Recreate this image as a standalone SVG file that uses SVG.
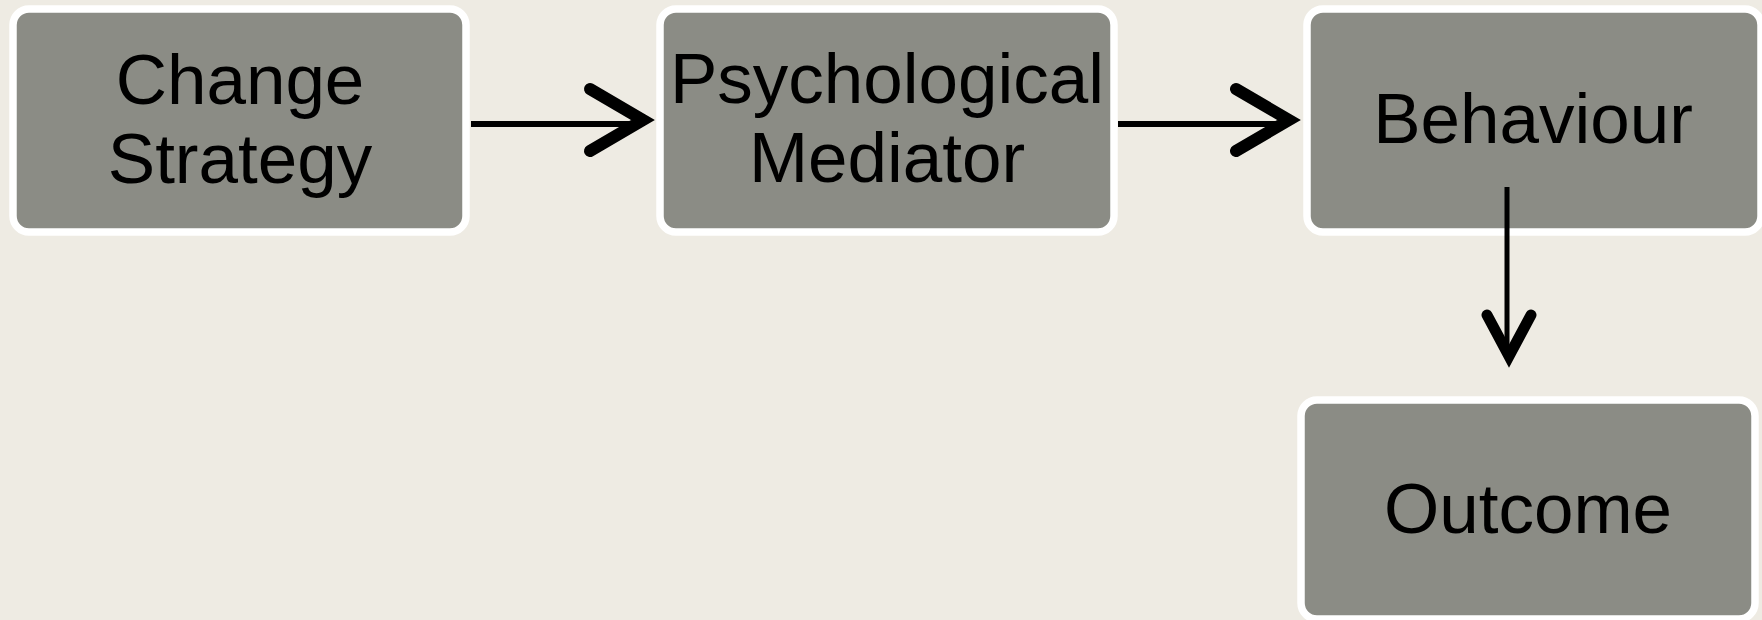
<svg xmlns="http://www.w3.org/2000/svg" width="1762" height="620" viewBox="0 0 1762 620">
<style>
.box{fill:#8B8C85;stroke:#FFFFFF;stroke-width:7.5}
.lbl{font-family:"Liberation Sans",Arial,sans-serif;font-size:71px;fill:#000000;text-anchor:middle}
.ln{stroke:#000000;stroke-width:6;fill:none}
.hd{stroke:#000000;stroke-width:12;fill:none;stroke-linecap:round;stroke-linejoin:miter;stroke-miterlimit:6}
</style>
<rect x="0" y="0" width="1762" height="620" fill="#EEEBE3"/>
<g id="node-change-strategy">
<rect class="box" x="13" y="9" width="453" height="223" rx="16"/>
<text class="lbl" x="240" y="104">Change</text>
<text class="lbl" x="240" y="183">Strategy</text>
</g>
<g id="node-psychological-mediator">
<rect class="box" x="660" y="9" width="454" height="223" rx="16"/>
<text class="lbl" x="887" y="103">Psychological</text>
<text class="lbl" x="887" y="182">Mediator</text>
</g>
<g id="node-behaviour">
<rect class="box" x="1307" y="9" width="454" height="223" rx="16"/>
<text class="lbl" x="1533" y="143">Behaviour</text>
</g>
<g id="node-outcome">
<rect class="box" x="1301" y="400" width="454" height="219" rx="16"/>
<text class="lbl" x="1528" y="533">Outcome</text>
</g>
<g id="connectors">
<line class="ln" x1="471" y1="124" x2="638" y2="124"/>
<polyline class="hd" points="590,89 643,120 590,151"/>
<line class="ln" x1="1118" y1="124" x2="1284" y2="124"/>
<polyline class="hd" points="1236,89 1289,120 1236,151"/>
<line class="ln" x1="1507" y1="187" x2="1507" y2="352" style="stroke-width:5"/>
<polyline class="hd" points="1487,315 1509,356 1531,315" style="stroke-width:11"/>
</g>
</svg>
